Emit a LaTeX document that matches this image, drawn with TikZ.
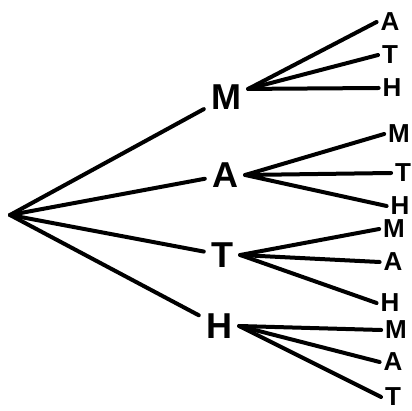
\documentclass[tikz,border=0pt]{standalone}
\usepackage{fontspec}
\setmainfont{Liberation Sans}
\usetikzlibrary{positioning}

\begin{document}
\begin{tikzpicture}[x=1pt, y=-1pt,
    letter/.style={font=\fontsize{36}{36}\selectfont\bfseries, inner sep=7pt},
    leaf/.style={font=\fontsize{26}{26}\selectfont\bfseries, inner sep=1pt, outer sep=3pt},
    branch/.style={line width=4pt, line cap=round}
  ]
  \useasboundingbox (0,0) rectangle (412,411);
  \coordinate (root) at (10,215);
  % first choice
  \node[letter] (m) at (226,97)  {M};
  \node[letter] (a) at (225,175) {A};
  \node[letter] (t) at (222,255) {T};
  \node[letter] (h) at (219,326) {H};
  % second choice
  \node[leaf] (mA) at (390,22)  {A};
  \node[leaf] (mT) at (390,55)  {T};
  \node[leaf] (mH) at (392,88)  {H};
  \node[leaf] (aM) at (399,134) {M};
  \node[leaf] (aT) at (403,173) {T};
  \node[leaf] (aH) at (400,206) {H};
  \node[leaf] (tM) at (394,229) {M};
  \node[leaf] (tA) at (393,262) {A};
  \node[leaf] (tH) at (390,303) {H};
  \node[leaf] (hM) at (396,330) {M};
  \node[leaf] (hA) at (393,362) {A};
  \node[leaf] (hT) at (393,397) {T};
  \foreach \n in {m,a,t,h}
    \draw[branch] (root) -- (\n);
  \foreach \n in {mA,mT,mH}
    \draw[branch] (m.20) -- (\n.west);
  \foreach \n in {aM,aT,aH}
    \draw[branch] (a.east) -- (\n.west);
  \foreach \n in {tM,tA,tH}
    \draw[branch] (t.east) -- (\n.west);
  \foreach \n in {hM,hA,hT}
    \draw[branch] (h.east) -- (\n.west);
\end{tikzpicture}
\end{document}
